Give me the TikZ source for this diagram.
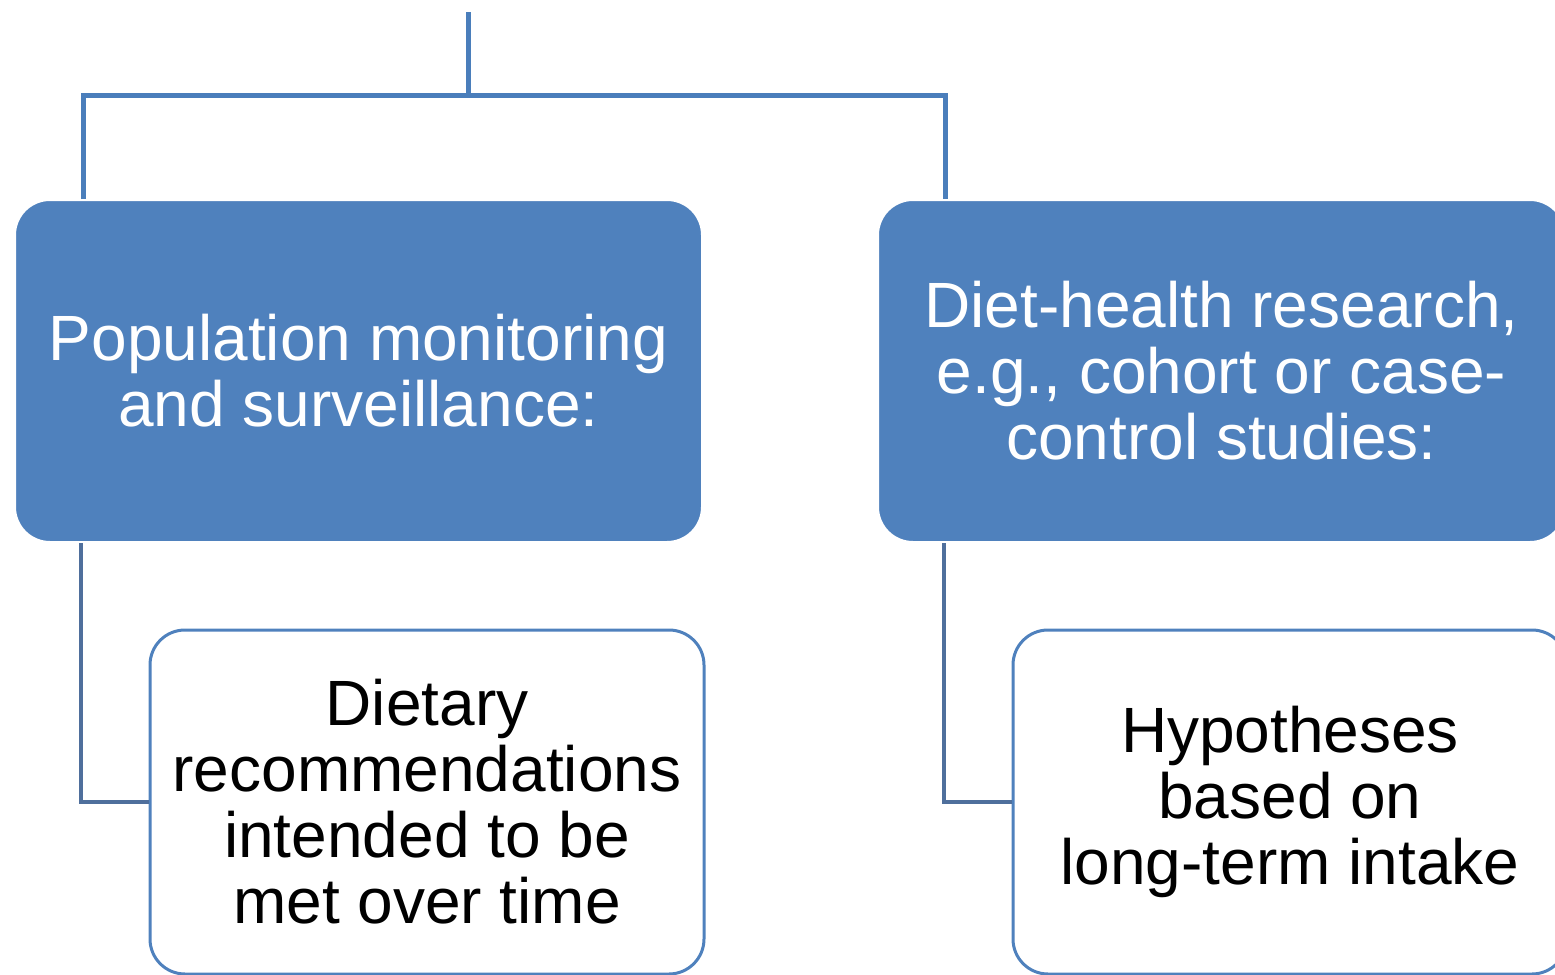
\documentclass[tikz,border=0pt]{standalone}
\usepackage{fontspec}
\setmainfont{Liberation Sans}
\definecolor{boxblue}{HTML}{4F81BD}
\definecolor{linkblue}{HTML}{4A7EBB}
\definecolor{sublinkblue}{HTML}{4F6F9C}
\tikzset{
  topic/.style={rectangle, rounded corners=17.5pt, fill=boxblue, draw=white, line width=1pt,
    text=white, align=center, minimum width=343.5pt, minimum height=171pt,
    font=\fontsize{32}{33}\selectfont},
  leaf/.style={rectangle, rounded corners=17.5pt, fill=white, draw=boxblue, line width=1.5pt,
    text=black, align=center, minimum width=277pt, minimum height=172pt,
    font=\fontsize{32}{33}\selectfont},
  link/.style={draw=linkblue, line width=2.5pt},
  sublink/.style={draw=sublinkblue, line width=2pt}
}
\begin{document}
\begin{tikzpicture}[x=0.5pt,y=-0.5pt]
            \clip (0,0) rectangle (1555,975);
            \node[topic] (pop) at (358.5,371) {Population monitoring\\and surveillance:};
            \node[topic] (res) at (1221.5,371) {Diet-health research,\\e.g., cohort or case-\\control studies:};
            \node[leaf] (rec) at (427,802) {Dietary\\recommendations\\intended to be\\met over time};
            \node[leaf] (hyp) at (1290,802) {Hypotheses\\based on\\long-term intake};
            \coordinate (root) at (468,12);
            \coordinate (hub) at (468,95);
            \draw[link] (root) -- (hub);
            \draw[link] (pop.north -| 83,0) |- (hub) -| (res.north -| 945,0);
            % branches down to the white boxes
            \draw[sublink] (pop.south -| 81,0) |- (rec.west);
            \draw[sublink] (res.south -| 944,0) |- (hyp.west);
        \end{tikzpicture}
\end{document}
